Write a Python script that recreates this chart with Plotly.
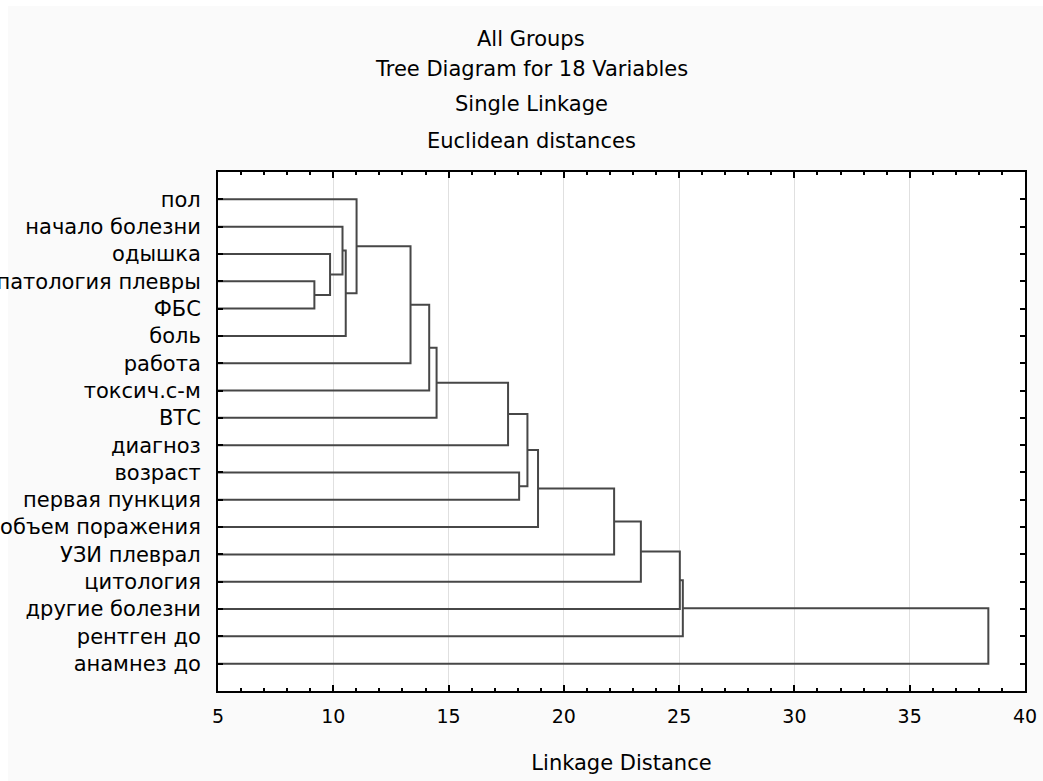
import plotly.graph_objects as go

# ---- data ----
labels = ["пол", "начало болезни", "одышка", "патология плевры", "ФБС", "боль",
          "работа", "токсич.с-м", "ВТС", "диагноз", "возраст", "первая пункция",
          "объем поражения", "УЗИ плеврал", "цитология", "другие болезни",
          "рентген до", "анамнез до"]
# merges: (left cluster id, right cluster id); leaves are 0..17, new clusters 18..
merge_left = [3, 2, 1, 20, 0, 22, 23, 24, 10, 25, 27, 28, 29, 30, 31, 32, 33]
merge_right = [4, 18, 19, 5, 21, 6, 7, 8, 11, 9, 26, 12, 13, 14, 15, 16, 17]
merge_height = [9.18, 9.86, 10.40, 10.54, 11.01, 13.35, 14.16, 14.48, 18.06,
                17.58, 18.42, 18.88, 22.18, 23.34, 25.03, 25.16, 38.41]

title_lines = ["All Groups", "Tree Diagram for 18 Variables", "Single Linkage",
               "Euclidean distances"]
x_title = "Linkage Distance"

# ---- build dendrogram segments ----
n = len(labels)
pos = {i: i + 1 for i in range(n)}
hgt = {i: 0.0 for i in range(n)}
xs, ys = [], []
for k, (a, b, h) in enumerate(zip(merge_left, merge_right, merge_height)):
    cid = n + k
    xs += [hgt[a], h, h, hgt[b], None]
    ys += [pos[a], pos[a], pos[b], pos[b], None]
    pos[cid] = (pos[a] + pos[b]) / 2
    hgt[cid] = h

FONT = "DejaVu Sans, Verdana, sans-serif"
fig = go.Figure()
fig.add_trace(go.Scatter(x=xs, y=ys, mode="lines",
                         line=dict(color="#474747", width=2),
                         hoverinfo="skip", showlegend=False))

W, H = 1043, 781
L, R, T, B = 218, 18, 172, 90
pw, ph = W - L - R, H - T - B

def px_to_paper_x(px):
    return (px - L) / pw

def px_to_paper_y(py):
    return (H - B - py) / ph

title_y_px = [39, 69, 104, 141]
annotations = []
for t, yp in zip(title_lines, title_y_px):
    annotations.append(dict(text=t, x=px_to_paper_x(531), y=px_to_paper_y(yp),
                            xref="paper", yref="paper", showarrow=False,
                            xanchor="center", yanchor="middle",
                            font=dict(family=FONT, size=21, color="#000")))

shapes = [
    dict(type="rect", xref="paper", yref="paper", layer="below",
         x0=px_to_paper_x(0), x1=px_to_paper_x(W), y0=px_to_paper_y(6), y1=px_to_paper_y(0),
         fillcolor="white", line=dict(width=0)),
    dict(type="rect", xref="paper", yref="paper", layer="below",
         x0=px_to_paper_x(0), x1=px_to_paper_x(8), y0=px_to_paper_y(H), y1=px_to_paper_y(0),
         fillcolor="white", line=dict(width=0)),
]

fig.update_layout(
    width=W, height=H,
    margin=dict(l=L, r=R, t=T, b=B, pad=0),
    paper_bgcolor="#fafafa", plot_bgcolor="white",
    font=dict(family=FONT, size=19, color="#000"),
    annotations=annotations, shapes=shapes,
    showlegend=False,
)
fig.update_xaxes(range=[5, 40], tickmode="linear", tick0=5, dtick=5,
                 ticks="inside", ticklen=6, tickwidth=2, tickcolor="#000",
                 minor=dict(ticks="inside", dtick=1, ticklen=3, tickwidth=1.5,
                            tickcolor="#000", showgrid=False),
                 showgrid=True, gridcolor="#e0e0e0", gridwidth=1,
                 showline=True, linecolor="#000", linewidth=2, mirror="allticks",
                 zeroline=False, tickfont=dict(size=19), ticklabelstandoff=7,
                 automargin=False,
                 title=dict(text=x_title, font=dict(size=21), standoff=30))
fig.update_yaxes(range=[19, 0], tickmode="array", tickvals=list(range(1, n + 1)),
                 ticktext=labels, ticks="inside", ticklen=5, tickwidth=2,
                 tickcolor="#000", showgrid=False, zeroline=False,
                 showline=True, linecolor="#000", linewidth=2, mirror="allticks",
                 automargin=False,
                 tickfont=dict(size=21), ticklabelstandoff=11)

fig.write_html("out.html", config={"displayModeBar": False})
